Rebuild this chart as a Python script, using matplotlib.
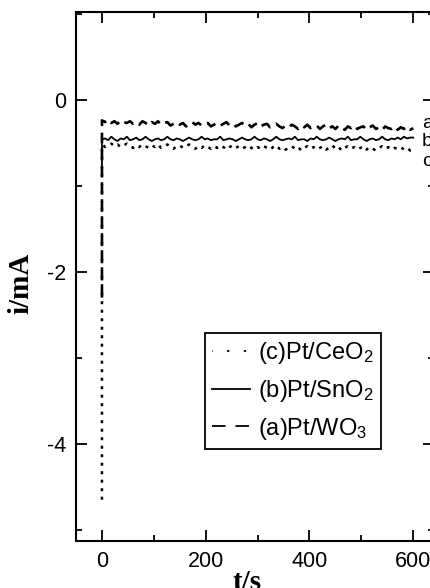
import numpy as np
import matplotlib
matplotlib.use("Agg")
import matplotlib.pyplot as plt
from matplotlib.ticker import MultipleLocator

plt.rcParams['font.family'] = ['Liberation Sans', 'DejaVu Sans']
plt.rcParams['mathtext.default'] = 'regular'
plt.rcParams['axes.unicode_minus'] = False

# sample times (s); first point is the initial current spike at t=0
t = np.concatenate([[0], np.arange(0, 601, 6)])

a_vals = [-2.30,
    -0.24,-0.26,-0.23,-0.27,-0.25,-0.28,-0.24,-0.26,-0.27,-0.25,
    -0.28,-0.26,-0.29,-0.25,-0.27,-0.30,-0.26,-0.28,-0.25,-0.29,
    -0.27,-0.26,-0.30,-0.28,-0.26,-0.29,-0.27,-0.31,-0.28,-0.26,
    -0.29,-0.27,-0.30,-0.28,-0.27,-0.31,-0.29,-0.27,-0.30,-0.28,
    -0.26,-0.30,-0.28,-0.31,-0.29,-0.27,-0.30,-0.28,-0.32,-0.29,
    -0.27,-0.31,-0.29,-0.28,-0.32,-0.30,-0.28,-0.31,-0.33,-0.30,
    -0.32,-0.29,-0.31,-0.34,-0.30,-0.32,-0.29,-0.33,-0.31,-0.30,
    -0.34,-0.31,-0.29,-0.33,-0.31,-0.34,-0.30,-0.32,-0.35,-0.31,
    -0.33,-0.30,-0.34,-0.32,-0.31,-0.35,-0.32,-0.30,-0.34,-0.32,
    -0.35,-0.31,-0.33,-0.34,-0.31,-0.35,-0.32,-0.34,-0.31,-0.35,
    -0.33]

b_vals = [-0.75,
    -0.46,-0.45,-0.47,-0.43,-0.46,-0.48,-0.45,-0.46,-0.43,-0.47,
    -0.46,-0.44,-0.47,-0.46,-0.43,-0.46,-0.48,-0.46,-0.45,-0.47,
    -0.46,-0.43,-0.46,-0.47,-0.45,-0.46,-0.48,-0.46,-0.44,-0.46,
    -0.47,-0.46,-0.43,-0.46,-0.45,-0.47,-0.46,-0.46,-0.43,-0.47,
    -0.46,-0.45,-0.46,-0.48,-0.46,-0.44,-0.46,-0.47,-0.46,-0.43,
    -0.46,-0.47,-0.45,-0.46,-0.48,-0.46,-0.43,-0.46,-0.47,-0.46,
    -0.45,-0.46,-0.43,-0.47,-0.46,-0.46,-0.48,-0.45,-0.46,-0.43,
    -0.46,-0.47,-0.46,-0.44,-0.46,-0.48,-0.46,-0.45,-0.46,-0.43,
    -0.47,-0.46,-0.46,-0.43,-0.46,-0.48,-0.46,-0.45,-0.47,-0.46,
    -0.43,-0.46,-0.47,-0.45,-0.46,-0.44,-0.46,-0.43,-0.45,-0.44,
    -0.44]

c_vals = [-4.65,
    -0.52,-0.55,-0.53,-0.51,-0.54,-0.52,-0.55,-0.53,-0.51,-0.54,
    -0.56,-0.53,-0.55,-0.52,-0.54,-0.56,-0.53,-0.55,-0.52,-0.56,
    -0.54,-0.52,-0.55,-0.57,-0.54,-0.53,-0.56,-0.54,-0.52,-0.55,
    -0.57,-0.54,-0.56,-0.53,-0.55,-0.57,-0.54,-0.56,-0.53,-0.55,
    -0.58,-0.55,-0.53,-0.56,-0.54,-0.57,-0.55,-0.53,-0.56,-0.58,
    -0.55,-0.57,-0.54,-0.56,-0.58,-0.55,-0.53,-0.57,-0.55,-0.58,
    -0.56,-0.54,-0.57,-0.55,-0.59,-0.56,-0.54,-0.57,-0.55,-0.58,
    -0.56,-0.54,-0.58,-0.56,-0.53,-0.57,-0.55,-0.59,-0.56,-0.54,
    -0.57,-0.55,-0.58,-0.56,-0.54,-0.58,-0.55,-0.57,-0.59,-0.56,
    -0.54,-0.57,-0.55,-0.58,-0.56,-0.57,-0.55,-0.58,-0.56,-0.59,
    -0.58]

legend_labels = ['(c)Pt/CeO$_2$', '(b)Pt/SnO$_2$', '(a)Pt/WO$_3$']
curve_tags = ['a', 'b', 'c']
x_ticks = [0, 200, 400, 600]
y_ticks = [0, -2, -4]

W, H = 431, 588
fig = plt.figure(figsize=(W / 100, H / 100), dpi=100)
L, R, T, B = 75.5, 434, 12, 541
ax = fig.add_axes([L / W, 1 - B / H, (R - L) / W, (B - T) / H])

lc, = ax.plot(t, c_vals, color='black', lw=1.8, ls=(0, (1.2, 2.2)))
lb, = ax.plot(t, b_vals, color='black', lw=1.3, ls='-')
la, = ax.plot(t, a_vals, color='black', lw=1.9, ls=(0, (4, 2.5)))

ax.set_xlim(-51, 640)
ax.set_ylim(-5.13, 1.02)
ax.set_xticks(x_ticks)
ax.set_yticks(y_ticks)
ax.set_yticklabels([str(v) for v in y_ticks])
ax.xaxis.set_minor_locator(MultipleLocator(100))
ax.yaxis.set_minor_locator(MultipleLocator(1))
ax.tick_params(which='both', direction='in', top=True, right=True, width=1.3)
ax.tick_params(which='major', length=8, labelsize=15.5, pad=7)
ax.tick_params(which='minor', length=4)
for s in ax.spines.values():
    s.set_linewidth(1.5)

leg = ax.legend([lc, lb, la], legend_labels, loc='upper left',
                bbox_to_anchor=((205 - L) / (R - L), (B - 333) / (B - T)),
                borderaxespad=0, fontsize=17, frameon=True, fancybox=False,
                framealpha=1, edgecolor='black', handlelength=1.6,
                handletextpad=0.35, labelspacing=0.5, borderpad=0.3)
leg.get_frame().set_linewidth(1.3)
hc, hb, ha = leg.legend_handles
for h in (hc, hb, ha):
    h.set_linewidth(1.3)
hc.set_linestyle((1, (1.3, 8)))
ha.set_linestyle((0, (7.5, 5.5)))

for tag, yp in zip(curve_tags, [123, 142, 162]):
    fig.text(422 / W, 1 - yp / H, tag, fontsize=14, ha='left', va='center')

fig.text(21 / W, 1 - 283 / H, 'i/mA', rotation=90, ha='center', va='center',
         fontsize=21, fontweight='bold', family='Liberation Serif')
fig.text(247 / W, 1 - 582 / H, 't/s', ha='center', va='center',
         fontsize=21, fontweight='bold', family='Liberation Serif')

fig.savefig('out.png', dpi=100)
